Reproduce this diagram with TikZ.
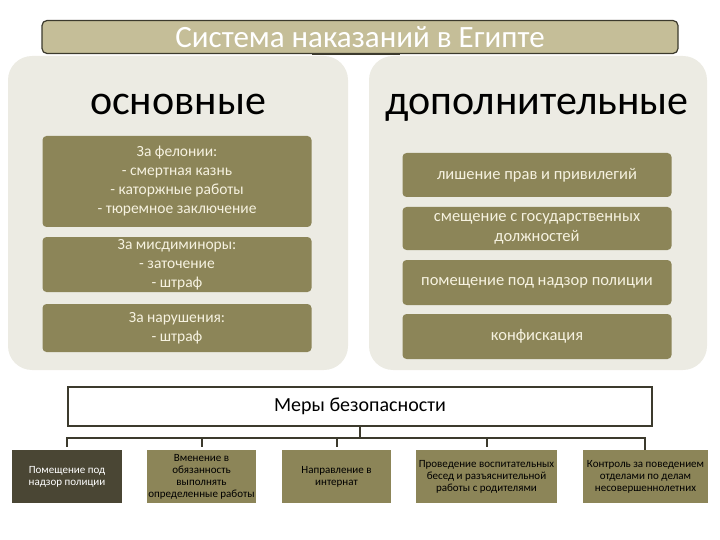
\documentclass[tikz,border=0pt]{standalone}
\usepackage{fontspec}
\setmainfont{Carlito}
\usepackage{xcolor}
\definecolor{egpanel}{RGB}{236,235,227}
\definecolor{egolive}{RGB}{140,133,88}
\definecolor{egkhaki}{RGB}{197,190,152}
\definecolor{egdark}{RGB}{74,70,52}
\definecolor{egline}{RGB}{60,58,45}
\definecolor{egcream}{RGB}{246,242,224}
\usetikzlibrary{positioning,calc}

\begin{document}
\begin{tikzpicture}[
  x=1pt,y=-1pt,
  panel/.style={fill=egpanel,rounded corners=24pt},
  punbox/.style={fill=egolive,rounded corners=4pt,text=egcream,align=center,
    minimum width=269pt,inner sep=0pt,font=\fontsize{15.5}{19}\selectfont},
  extbox/.style={punbox,font=\fontsize{16.5}{20}\selectfont},
  heading/.style={anchor=base,font=\fontsize{42}{46}\selectfont},
  measure/.style={fill=egolive,minimum height=53pt,inner sep=1pt,align=center,
    font=\fontsize{11}{12}\selectfont},
  bus/.style={line width=2pt,draw=egline},
]
  \useasboundingbox (0,0) rectangle (720,540);
  % two panels
  \fill[panel] (8,56) rectangle (348,370);
  \fill[panel] (369,56) rectangle (707,370);
  % title bar
  \node[draw=egline,line width=1.2pt,fill=egkhaki,rounded corners=5pt,minimum width=636pt,
        minimum height=33pt,inner sep=0pt,text=white,
        font=\fontsize{31}{34}\selectfont] (title) at (360,37) {Система наказаний в Египте};
  \draw[egline,line width=2.5pt] ([xshift=-48pt]title.south) -- ([xshift=40pt]title.south);
  % headings
  \node[heading] (basic) at (178,115) {основные};
  \node[heading] (extra) at (537,115) {дополнительные};
  % basic punishments
  \node[punbox,minimum height=91pt] (b1) at (177,181.5) {За фелонии:\\- смертная казнь\\- каторжные работы\\- тюремное заключение};
  \node[punbox,minimum height=55pt] (b2) at (177,264.5) {За мисдиминоры:\\- заточение\\- штраф};
  \node[punbox,minimum height=48pt] (b3) at (177,328) {За нарушения:\\- штраф};
  % extra punishments
  \node[extbox,minimum height=44pt] (e1) at (537,175) {лишение прав и привилегий};
  \node[extbox,minimum height=43pt] (e2) at (537,228.5) {смещение с государственных\\должностей};
  \node[extbox,minimum height=45pt] (e3) at (537,282.5) {помещение под надзор полиции};
  \node[extbox,minimum height=45pt] (e4) at (537,336.5) {конфискация};
  % security measures
  \node[draw=egline,line width=2pt,fill=white,minimum width=584pt,minimum height=39pt,
        inner sep=0pt,font=\fontsize{20}{24}\selectfont] (sec) at (360,406.5) {Меры безопасности};
  \node[measure,fill=egdark,text=white,minimum width=110pt] (m1) at (67,476.5) {Помещение под\\надзор полиции};
  \node[measure,minimum width=109pt] (m2) at (201.5,476.5) {Вменение в\\обязанность\\выполнять\\определенные работы};
  \node[measure,minimum width=109pt] (m3) at (336.5,476.5) {Направление в\\интернат};
  \node[measure,minimum width=141pt] (m4) at (486.5,476.5) {Проведение воспитательных\\бесед и разъяснительной\\работы с родителями};
  \node[measure,minimum width=125pt] (m5) at (645.5,476.5) {Контроль за поведением\\отделами по делам\\несовершеннолетних};
  % connectors
  \coordinate (hub) at (360,438);
  \draw[bus] (sec.south) -- (hub);
  \draw[bus,shorten <=3pt] (m1.north) |- (hub) -| ([xshift=-0.5pt]m5.north);
  \foreach \m in {m2,m3,m4}
    \draw[bus,shorten <=3pt] (\m.north) -- (\m.north |- hub);
\end{tikzpicture}
\end{document}
